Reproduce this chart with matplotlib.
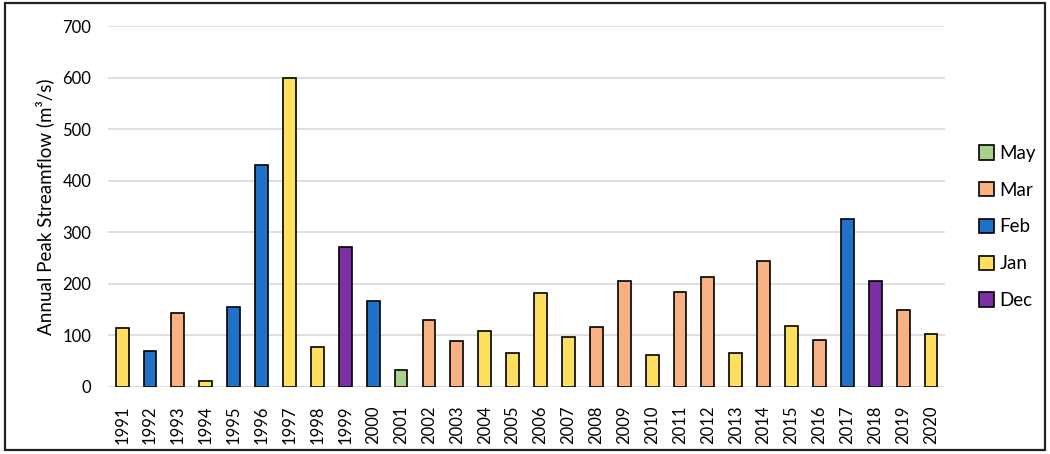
import numpy as np
import matplotlib.pyplot as plt
from matplotlib.patches import Rectangle

years = [str(y) for y in range(1991, 2021)]
peak_flow = [114, 69, 144, 12, 156, 431, 600, 77, 272, 167,
             32, 129, 90, 108, 66, 182, 97, 117, 206, 63,
             184, 214, 66, 245, 119, 92, 326, 205, 149, 103]
peak_month = ['Jan', 'Feb', 'Mar', 'Jan', 'Feb', 'Feb', 'Jan', 'Jan', 'Dec', 'Feb',
              'May', 'Mar', 'Mar', 'Jan', 'Jan', 'Jan', 'Jan', 'Mar', 'Mar', 'Jan',
              'Mar', 'Mar', 'Jan', 'Mar', 'Jan', 'Mar', 'Feb', 'Dec', 'Mar', 'Jan']
legend_order = ['May', 'Mar', 'Feb', 'Jan', 'Dec']
month_colors = {'May': '#A9D18E', 'Mar': '#F8B183', 'Feb': '#1F72C8',
                'Jan': '#FFDF5F', 'Dec': '#7A2FA3'}

plt.rcParams['font.family'] = ['Lato', 'DejaVu Sans']

fig = plt.figure(figsize=(10.5, 4.54), dpi=100)
ax = fig.add_axes([0.103, 0.1476, 0.797, 0.7951])

x = np.arange(len(years))
flow = np.array(peak_flow)
months = np.array(peak_month)
for m in legend_order:
    mask = months == m
    ax.bar(x[mask], flow[mask], width=0.46, color=month_colors[m],
           edgecolor='black', linewidth=1.2, label=m, zorder=3)

ax.set_xlim(-0.5, len(years) - 0.5)
ax.set_ylim(0, 700)
ax.set_yticks(range(0, 701, 100))
ax.set_xticks(x)
ax.set_xticklabels(years, rotation=90)
ax.tick_params(axis='both', length=0, labelsize=12, colors='black')
ax.tick_params(axis='x', pad=13)
ax.tick_params(axis='y', pad=12)
ax.grid(axis='y', color='#D9D9D9', linewidth=1.2, zorder=0)
for s in ax.spines.values():
    s.set_visible(False)
ax.set_ylabel('Annual Peak Streamflow (m³/s)', fontsize=13.5, labelpad=6)

fig.legend(loc='center left', bbox_to_anchor=(0.916, 0.5), frameon=False,
           handlelength=0.8, handleheight=0.8, handletextpad=0.3,
           labelspacing=1.05, fontsize=13.5)

fig.patches.append(Rectangle((0.005, 0.008), 0.99, 0.985, transform=fig.transFigure,
                             fill=False, edgecolor='#222222', linewidth=1.6))

fig.savefig('out.png', dpi=100)
